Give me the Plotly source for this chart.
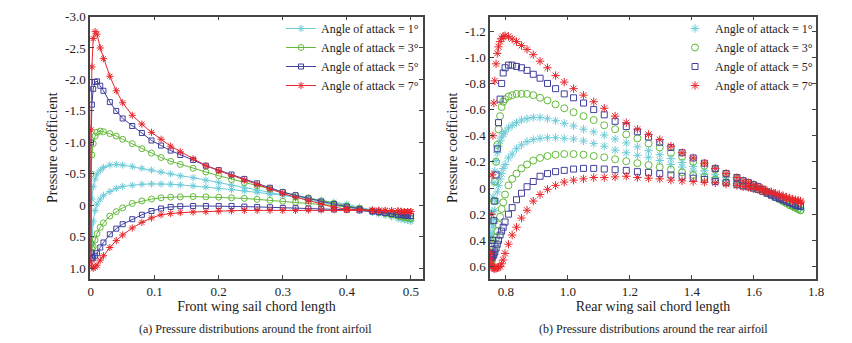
import plotly.graph_objects as go

# ---------------- data ----------------
legend_names = ["Angle of attack = 1°", "Angle of attack = 3°", "Angle of attack = 5°", "Angle of attack = 7°"]
colors = ["#6ccbd8", "#62ba38", "#40409e", "#e8272c"]
symbols = ["asterisk-open", "circle-open", "square-open", "asterisk-open"]
front_marker_sizes = [6, 6, 5, 6]
rear_marker_sizes = [7, 7, 6, 7]

# Front airfoil: chord positions (leading edge -> trailing edge), shared by both surfaces
front_x = [0.0005, 0.002, 0.004, 0.007, 0.01, 0.015, 0.02, 0.03, 0.04, 0.05, 0.065, 0.08, 0.095,
           0.11, 0.125, 0.14, 0.16, 0.18, 0.2, 0.22, 0.24, 0.26, 0.28, 0.3, 0.32, 0.34, 0.36,
           0.38, 0.4, 0.42, 0.44, 0.45, 0.46, 0.47, 0.48, 0.485, 0.49, 0.495, 0.5]

front_upper_1 = [0.3, -0.1, -0.3, -0.42, -0.5, -0.56, -0.6, -0.64, -0.65, -0.64, -0.62, -0.59, -0.56,
                 -0.53, -0.5, -0.47, -0.44, -0.4, -0.36, -0.32, -0.28, -0.24, -0.2, -0.16, -0.12, -0.08, -0.05,
                 -0.01, 0.03, 0.07, 0.11, 0.135, 0.16, 0.185, 0.21, 0.22, 0.23, 0.24, 0.25]
front_lower_1 = [0.85, 0.6, 0.25, 0.08, -0.02, -0.1, -0.16, -0.22, -0.27, -0.3, -0.32, -0.335, -0.34,
                 -0.34, -0.335, -0.325, -0.31, -0.29, -0.27, -0.25, -0.23, -0.21, -0.18, -0.16, -0.13, -0.11, -0.08,
                 -0.05, -0.02, 0.03, 0.07, 0.095, 0.12, 0.15, 0.18, 0.2, 0.22, 0.235, 0.25]

front_upper_3 = [-0.5, -0.8, -0.98, -1.1, -1.16, -1.18, -1.17, -1.14, -1.1, -1.05, -0.98, -0.9, -0.83,
                 -0.76, -0.7, -0.65, -0.59, -0.53, -0.47, -0.41, -0.36, -0.31, -0.26, -0.21, -0.16, -0.12, -0.07,
                 -0.03, 0.01, 0.05, 0.09, 0.11, 0.13, 0.15, 0.17, 0.18, 0.19, 0.2, 0.21]
front_lower_3 = [0.6, 0.69, 0.66, 0.55, 0.45, 0.35, 0.28, 0.17, 0.1, 0.04, -0.03, -0.07, -0.1,
                 -0.12, -0.13, -0.135, -0.14, -0.135, -0.13, -0.12, -0.11, -0.095, -0.08, -0.065, -0.05, -0.035, -0.02,
                 0.0, 0.02, 0.05, 0.09, 0.11, 0.13, 0.15, 0.17, 0.18, 0.19, 0.2, 0.21]

front_upper_5 = [-1.0, -1.6, -1.85, -1.96, -1.97, -1.9, -1.82, -1.64, -1.5, -1.38, -1.26, -1.15, -1.03,
                 -0.95, -0.87, -0.8, -0.72, -0.63, -0.56, -0.49, -0.42, -0.35, -0.28, -0.21, -0.16, -0.11, -0.06,
                 -0.02, 0.02, 0.06, 0.09, 0.105, 0.12, 0.135, 0.15, 0.155, 0.16, 0.165, 0.17]
front_lower_5 = [0.75, 0.83, 0.84, 0.8, 0.76, 0.67, 0.59, 0.46, 0.37, 0.3, 0.22, 0.15, 0.09,
                 0.05, 0.025, 0.015, 0.01, 0.01, 0.01, 0.01, 0.02, 0.025, 0.03, 0.04, 0.045, 0.05, 0.06,
                 0.065, 0.07, 0.08, 0.1, 0.11, 0.12, 0.135, 0.15, 0.155, 0.16, 0.165, 0.17]

front_upper_7 = [-1.2, -2.2, -2.65, -2.76, -2.72, -2.5, -2.33, -2.05, -1.82, -1.63, -1.43, -1.29, -1.16,
                 -1.05, -0.94, -0.85, -0.74, -0.63, -0.55, -0.47, -0.4, -0.33, -0.26, -0.19, -0.13, -0.07, -0.02,
                 0.03, 0.06, 0.07, 0.08, 0.085, 0.09, 0.09, 0.09, 0.095, 0.1, 0.1, 0.1]
front_lower_7 = [0.9, 0.98, 1.0, 0.98, 0.95, 0.87, 0.8, 0.67, 0.56, 0.47, 0.36, 0.27, 0.2,
                 0.15, 0.13, 0.115, 0.105, 0.1, 0.09, 0.085, 0.08, 0.08, 0.08, 0.08, 0.08, 0.075, 0.075,
                 0.07, 0.07, 0.07, 0.075, 0.078, 0.08, 0.085, 0.09, 0.095, 0.1, 0.1, 0.1]

# Rear airfoil: chord positions (leading edge -> trailing edge), shared by both surfaces
rear_x = [0.751, 0.753, 0.755, 0.758, 0.761, 0.764, 0.768, 0.772, 0.776, 0.781, 0.786, 0.791, 0.797,
          0.808, 0.82, 0.834, 0.85, 0.868, 0.888, 0.91, 0.934, 0.96, 0.988, 1.018, 1.05, 1.083,
          1.117, 1.152, 1.188, 1.224, 1.26, 1.296, 1.332, 1.368, 1.404, 1.44, 1.475, 1.51, 1.545,
          1.565, 1.582, 1.598, 1.613, 1.628, 1.642, 1.656, 1.669, 1.682, 1.694, 1.705, 1.715,
          1.725, 1.734, 1.742, 1.75]

rear_upper_1 = [0.35, 0.27, 0.18, 0.07, -0.04, -0.13, -0.21, -0.27, -0.32, -0.36, -0.39, -0.415, -0.43,
                -0.46, -0.48, -0.5, -0.52, -0.53, -0.54, -0.54, -0.53, -0.515, -0.495, -0.475, -0.45, -0.43,
                -0.405, -0.375, -0.345, -0.315, -0.285, -0.255, -0.225, -0.195, -0.165, -0.135, -0.105, -0.08, -0.05,
                -0.035, -0.02, -0.005, 0.005, 0.02, 0.04, 0.055, 0.07, 0.085, 0.1, 0.11, 0.12,
                0.13, 0.14, 0.15, 0.155]
rear_lower_1 = [0.4, 0.38, 0.35, 0.3, 0.24, 0.17, 0.1, 0.03, -0.02, -0.07, -0.11, -0.15, -0.18,
                -0.23, -0.26, -0.3, -0.33, -0.355, -0.37, -0.38, -0.385, -0.385, -0.38, -0.375, -0.36, -0.34,
                -0.32, -0.29, -0.27, -0.25, -0.235, -0.21, -0.18, -0.16, -0.13, -0.105, -0.08, -0.055, -0.035,
                -0.025, -0.015, -0.005, 0.005, 0.02, 0.035, 0.05, 0.065, 0.08, 0.095, 0.11, 0.12,
                0.13, 0.14, 0.15, 0.155]

rear_upper_3 = [0.58, 0.5, 0.4, 0.25, 0.1, -0.05, -0.2, -0.33, -0.45, -0.55, -0.62, -0.66, -0.68,
                -0.7, -0.71, -0.72, -0.72, -0.72, -0.71, -0.69, -0.67, -0.64, -0.61, -0.58, -0.55, -0.52,
                -0.48, -0.45, -0.41, -0.38, -0.34, -0.31, -0.27, -0.24, -0.2, -0.17, -0.14, -0.11, -0.07,
                -0.055, -0.04, -0.025, -0.01, 0.01, 0.03, 0.05, 0.07, 0.085, 0.1, 0.115, 0.13,
                0.14, 0.15, 0.16, 0.17]
rear_lower_3 = [0.58, 0.57, 0.55, 0.51, 0.47, 0.43, 0.38, 0.33, 0.28, 0.22, 0.16, 0.11, 0.05,
                -0.02, -0.07, -0.11, -0.15, -0.18, -0.21, -0.23, -0.245, -0.255, -0.26, -0.26, -0.255, -0.245,
                -0.235, -0.22, -0.205, -0.19, -0.175, -0.16, -0.14, -0.12, -0.1, -0.085, -0.065, -0.045, -0.03,
                -0.02, -0.01, 0.0, 0.01, 0.025, 0.04, 0.055, 0.07, 0.085, 0.1, 0.115, 0.13,
                0.14, 0.15, 0.16, 0.17]

rear_upper_5 = [0.52, 0.5, 0.47, 0.4, 0.25, 0.1, -0.1, -0.3, -0.5, -0.68, -0.8, -0.88, -0.92,
                -0.94, -0.94, -0.93, -0.92, -0.9, -0.87, -0.84, -0.8, -0.76, -0.72, -0.69, -0.65, -0.6,
                -0.56, -0.51, -0.47, -0.43, -0.39, -0.35, -0.31, -0.27, -0.23, -0.19, -0.15, -0.11, -0.08,
                -0.055, -0.04, -0.025, -0.01, 0.01, 0.03, 0.045, 0.06, 0.075, 0.09, 0.1, 0.11,
                0.12, 0.13, 0.135, 0.14]
rear_lower_5 = [0.52, 0.53, 0.53, 0.52, 0.51, 0.49, 0.46, 0.43, 0.4, 0.36, 0.33, 0.3, 0.26,
                0.2, 0.15, 0.09, 0.04, -0.01, -0.05, -0.09, -0.11, -0.125, -0.135, -0.145, -0.15, -0.15,
                -0.145, -0.14, -0.135, -0.125, -0.12, -0.11, -0.1, -0.09, -0.075, -0.065, -0.05, -0.04, -0.025,
                -0.015, -0.01, 0.0, 0.01, 0.025, 0.04, 0.055, 0.07, 0.08, 0.09, 0.1, 0.11,
                0.12, 0.13, 0.135, 0.14]

rear_upper_7 = [0.5, 0.2, -0.1, -0.4, -0.65, -0.82, -0.95, -1.03, -1.08, -1.12, -1.145, -1.16, -1.165,
                -1.16, -1.14, -1.12, -1.09, -1.06, -1.02, -0.97, -0.92, -0.86, -0.81, -0.76, -0.71, -0.66,
                -0.61, -0.55, -0.5, -0.45, -0.41, -0.37, -0.32, -0.27, -0.23, -0.19, -0.15, -0.11, -0.08,
                -0.055, -0.04, -0.025, -0.01, 0.005, 0.02, 0.03, 0.04, 0.05, 0.06, 0.07, 0.075,
                0.085, 0.09, 0.095, 0.1]
rear_lower_7 = [0.55, 0.58, 0.6, 0.61, 0.615, 0.615, 0.615, 0.61, 0.605, 0.6, 0.58, 0.55, 0.5,
                0.43, 0.36, 0.3, 0.23, 0.17, 0.1, 0.05, 0.01, -0.02, -0.045, -0.06, -0.07, -0.08,
                -0.08, -0.085, -0.09, -0.08, -0.075, -0.07, -0.06, -0.055, -0.05, -0.045, -0.04, -0.03, -0.02,
                -0.01, -0.005, 0.005, 0.01, 0.02, 0.03, 0.04, 0.05, 0.06, 0.07, 0.08, 0.09,
                0.095, 0.1, 0.105, 0.11]

front_upper = [front_upper_1, front_upper_3, front_upper_5, front_upper_7]
front_lower = [front_lower_1, front_lower_3, front_lower_5, front_lower_7]
rear_upper = [rear_upper_1, rear_upper_3, rear_upper_5, rear_upper_7]
rear_lower = [rear_lower_1, rear_lower_3, rear_lower_5, rear_lower_7]

front_yticks = [-3.0, -2.5, -2.0, -1.5, -1.0, -0.5, 0, 0.5, 1.0]
front_yticktext = ["-3.0", "-2.5", "-2.0", "-1.5", "-1.0", "-0.5", "0", "0.5", "1.0"]
front_xticks = [0, 0.1, 0.2, 0.3, 0.4, 0.5]
front_xticktext = ["0", "0.1", "0.2", "0.3", "0.4", "0.5"]
rear_yticks = [-1.2, -1.0, -0.8, -0.6, -0.4, -0.2, 0, 0.2, 0.4, 0.6]
rear_yticktext = ["-1.2", "-1.0", "-0.8", "-0.6", "-0.4", "-0.2", "0", "0.2", "0.4", "0.6"]
rear_xticks = [0.8, 1.0, 1.2, 1.4, 1.6, 1.8]
rear_xticktext = ["0.8", "1.0", "1.2", "1.4", "1.6", "1.8"]

# ---------------- figure ----------------
# The page body has an 8 px margin, so the figure is drawn 8 px smaller and all
# positions are given relative to that offset.
W, H, OFF = 844, 335, 8
FONT = "Liberation Serif"

def px_x(p):
    return (p - OFF) / W

def px_y(p):
    return 1 - (p - OFF) / H

fig = go.Figure()

for i in range(4):
    xs = front_x[::-1] + front_x
    ys = front_upper[i][::-1] + front_lower[i]
    fig.add_trace(go.Scatter(
        x=xs, y=ys, mode="lines+markers", name=legend_names[i],
        line=dict(color=colors[i], width=1),
        marker=dict(symbol=symbols[i], size=front_marker_sizes[i], color=colors[i],
                    line=dict(width=1, color=colors[i])),
        xaxis="x", yaxis="y", legend="legend",
    ))

for i in range(4):
    xs = rear_x[::-1] + rear_x
    ys = rear_upper[i][::-1] + rear_lower[i]
    fig.add_trace(go.Scatter(
        x=xs, y=ys, mode="markers", name=legend_names[i],
        marker=dict(symbol=symbols[i], size=rear_marker_sizes[i], color=colors[i],
                    line=dict(width=1, color=colors[i])),
        xaxis="x2", yaxis="y2", legend="legend2",
    ))

axis_common = dict(
    showline=True, linecolor="#444", linewidth=1.5, mirror="ticks",
    ticks="inside", ticklen=4, tickcolor="#444", tickwidth=1,
    showgrid=False, zeroline=False,
    tickfont=dict(family=FONT, size=13, color="#222"),
)

y_dom = [px_y(279), px_y(16.5)]
title_font = dict(family=FONT, size=14, color="#222")
legend_font = dict(family=FONT, size=12, color="#222")

fig.update_layout(
    width=W, height=H,
    margin=dict(l=0, r=0, t=0, b=0, autoexpand=False),
    paper_bgcolor="white", plot_bgcolor="white",
    font=dict(family=FONT, size=13, color="#222"),
    xaxis=dict(axis_common, domain=[px_x(90), px_x(423)], range=[-0.001, 0.519],
               tickvals=front_xticks, ticktext=front_xticktext, anchor="y",
               title=dict(text="Front wing sail chord length", font=title_font, standoff=3)),
    yaxis=dict(axis_common, domain=y_dom, range=[1.17, -3.0],
               tickvals=front_yticks, ticktext=front_yticktext, anchor="x",
               title=dict(text="Pressure coefficient", font=title_font, standoff=4)),
    xaxis2=dict(axis_common, domain=[px_x(490), px_x(816)], range=[0.7485, 1.8],
                tickvals=rear_xticks, ticktext=rear_xticktext, anchor="y2",
                title=dict(text="Rear wing sail chord length", font=title_font, standoff=3)),
    yaxis2=dict(axis_common, domain=y_dom, range=[0.696, -1.312],
                tickvals=rear_yticks, ticktext=rear_yticktext, anchor="x2",
                title=dict(text="Pressure coefficient", font=title_font, standoff=4)),
    legend=dict(x=px_x(424), xanchor="right", y=px_y(14), yanchor="top",
                bgcolor="rgba(0,0,0,0)", borderwidth=0, itemwidth=30,
                font=legend_font, tracegroupgap=0),
    legend2=dict(x=px_x(818), xanchor="right", y=px_y(14), yanchor="top",
                 bgcolor="rgba(0,0,0,0)", borderwidth=0, itemwidth=30,
                 font=legend_font, tracegroupgap=0),
    annotations=[
        dict(text="(a) Pressure distributions around the front airfoil", xref="paper", yref="paper",
             x=px_x(256), y=px_y(329), xanchor="center", yanchor="middle", showarrow=False,
             font=dict(family=FONT, size=12, color="#222")),
        dict(text="(b) Pressure distributions around the rear airfoil", xref="paper", yref="paper",
             x=px_x(653), y=px_y(329), xanchor="center", yanchor="middle", showarrow=False,
             font=dict(family=FONT, size=12, color="#222")),
    ],
)

fig.write_html("out.html")
